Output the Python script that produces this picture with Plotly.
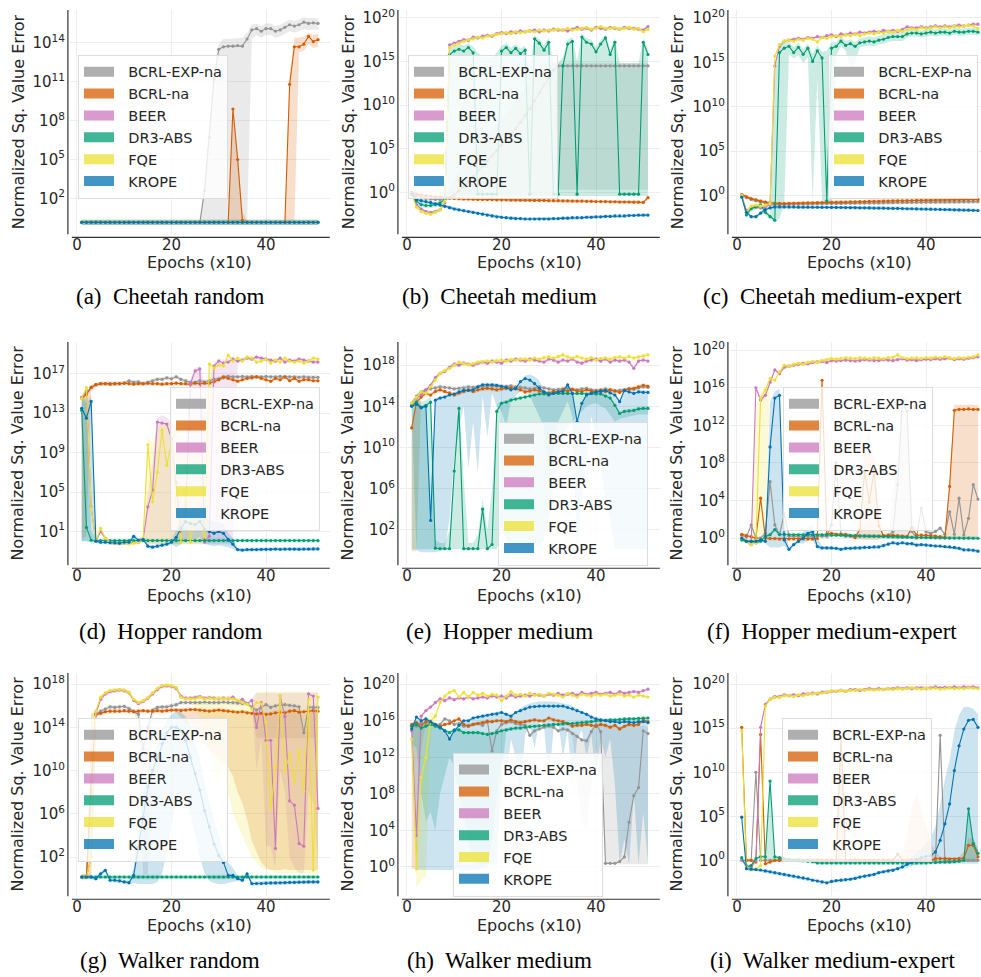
import plotly.graph_objects as go

W, H = 981, 977

# ---------------------------------------------------------------- data
EPOCHS = list(range(1, 52))
METHODS = ["BCRL-EXP-na", "BCRL-na", "BEER", "DR3-ABS", "FQE", "KROPE"]
COLORS = ["#949494", "#d55e00", "#cc78bc", "#029e73", "#ece133", "#0173b2"]
CAPTIONS = ["(a)\u00a0 Cheetah random", "(b)\u00a0 Cheetah medium", "(c)\u00a0 Cheetah medium-expert",
            "(d)\u00a0 Hopper random", "(e)\u00a0 Hopper medium", "(f)\u00a0 Hopper medium-expert",
            "(g)\u00a0 Walker random", "(h)\u00a0 Walker medium", "(i)\u00a0 Walker medium-expert"]
X_TITLE = "Epochs (x10)"
Y_TITLE = "Normalized Sq. Value Error"
X_TICKS = [0, 20, 40]
Y_TICK_EXP = [[2, 5, 8, 11, 14], [0, 5, 10, 15, 20], [0, 5, 10, 15, 20],
              [1, 5, 9, 13, 17], [2, 6, 10, 14, 18], [0, 4, 8, 12, 16, 20],
              [2, 6, 10, 14, 18], [0, 4, 8, 12, 16, 20], [0, 5, 10, 15, 20]]

# All values below are log10(normalized squared value error), one per epoch (x10).
# Band lists: None = narrow default band around the mean.

# (a) Cheetah random
A_EXP = [0.15] * 26 + [2.6, 6.7, 11.2, 13.5, 13.7, 13.75, 13.75, 13.8, 13.75, 14.3, 15.0, 15.1, 14.9,
                       15.1, 15.1, 14.9, 15.0, 15.2, 15.4, 15.3, 15.4, 15.6, 15.5, 15.55, 15.5]
A_EXP_LO = [0.1] * 36 + [14.3, 14.6, 14.4, 14.6, 14.6, 14.4, 14.5, 14.7, 14.9, 14.8, 14.9, 15.1, 15.0, 15.05, 15.0]
A_EXP_HI = [0.2] * 25 + [0.3, 3.5, 8.0, 12.0, 13.9, 14.3, 14.3, 14.35, 14.4, 14.4, 14.8, 15.4, 15.5, 15.3, 15.5,
                         15.5, 15.3, 15.4, 15.6, 15.8, 15.7, 15.8, 16.0, 15.9, 15.95, 15.9]
A_NA = [0.15] * 32 + [8.9, 5.0, 0.3] + [0.15] * 9 + [10.8, 13.7, 13.7, 13.9, 14.5, 14.1, 14.25]
A_NA_LO = [0.1] * 46 + [13.3, 13.4, 13.9, 13.6, 13.7]
A_NA_HI = [0.2] * 31 + [0.3, 9.0, 5.5, 1.0] + [0.2] * 8 + [0.4, 11.5, 14.4, 14.4, 14.5, 14.8, 14.6, 14.7]
A_BEER = [0.15] * 51
A_DR3 = [0.15] * 51
A_FQE = [0.15] * 51
A_KROPE = [0.15] * 51

# (b) Cheetah medium
B_EXP = [-0.1, -0.4, -0.6, -0.7, -0.75, -0.8, -0.8, -0.75, -0.6, -0.3, 0.2, 0.6, 1.2, 1.8, 2.5, 3.0, 3.6, 4.2,
         4.8, 5.4, 6.0, 6.7, 7.3, 8.0, 8.8, 9.6, 10.5, 11.4, 12.3, 13.2, 14.0] + [14.5] * 20
B_EXP_LO = [-0.3, -0.6, -0.8, -0.9, -0.95, -1.0, -1.0, -0.95] + [-0.8] * 23 + [0.3] * 20
B_EXP_HI = [0.1, -0.2, -0.4, -0.5, -0.55, -0.6, -0.6, -0.55, 0.5, 1.5, 2.5, 3.2, 4.0, 4.6, 5.3, 6.0, 6.6, 7.2,
            7.8, 8.5, 9.1, 9.8, 10.5, 11.2, 12.0, 12.8, 13.6, 14.2, 14.6, 14.8, 14.9] + [14.85] * 20
B_NA = [0.0, -0.2, -0.3, -0.4, -0.45, -0.5, -0.55, -0.6, -0.65, -0.7,
        -0.72, -0.75, -0.75, -0.78, -0.8, -0.8, -0.82, -0.82, -0.85, -0.85,
        -0.85, -0.88, -0.88, -0.9, -0.9, -0.9, -0.92, -0.92, -0.92, -0.95,
        -0.95, -0.95, -0.97, -0.97, -1.0, -1.0, -1.0, -1.02, -1.02, -1.05,
        -1.05, -1.05, -1.07, -1.07, -1.1, -1.1, -1.1, -1.12, -1.12, -1.15, -0.6]
B_BEER = [-0.1, -1.4, -1.9, -2.2, -2.3, -2.2, -2.0, -1.2, 16.9, 17.1,
          17.3, 17.5, 17.4, 17.8, 17.7, 17.9, 18.0, 17.9, 18.2, 18.3,
          18.2, 18.4, 18.3, 18.5, 18.4, 18.5, 18.6, 18.4, 18.6, 18.5,
          18.7, 18.6, 18.6, 18.5, 18.7, 18.9, 18.7, 18.8, 18.6, 18.9,
          18.8, 18.7, 18.9, 18.8, 18.7, 18.9, 18.8, 18.8, 18.7, 18.6, 19.0]
B_DR3 = [-0.2, -1.0, -1.4, -1.5, -1.5, -1.4, -1.2, -0.8, 15.8,
         16.2, 16.4, 16.2, 16.6, 16.0,
         -0.2, -0.2, -0.2, -0.2, -0.2,
         16.2, 16.6, 16.0, 16.5, 15.9, 16.3,
         -0.2,
         17.6, 17.1, 16.3, 17.2,
         -0.2, -0.2,
         14.5, 17.0, 17.3,
         -0.2,
         17.8, 17.2, 17.0, 16.1, 17.0, 17.7, 15.8, 17.2,
         -0.2, -0.2, -0.2, -0.2, -0.2,
         17.2, 15.8]
B_DR3_LO = [-0.5, -1.3, -1.7, -1.8, -1.8, -1.7, -1.5, -1.1] + [-0.4] * 43
B_DR3_HI = [0.1, -0.7, -1.1, -1.2, -1.2, -1.1, -0.9, -0.5, 16.5,
            16.8, 17.0, 16.8, 17.1, 16.7,
            16.0, 15.5, 15.5, 15.5, 16.0,
            16.8, 17.1, 16.6, 17.0, 16.5, 16.8,
            14.0,
            18.0, 17.6, 16.9, 17.7,
            14.8, 14.8,
            15.5, 17.5, 17.8,
            15.0,
            18.2, 17.7, 17.5, 16.7, 17.5, 18.1, 16.4, 17.7,
            14.8, 14.8, 14.8, 14.8, 14.8,
            17.6, 16.4]
B_FQE = [-0.2, -1.7, -2.2, -2.4, -2.5, -2.3, -2.0, -1.0, 16.6, 16.9,
         17.1, 17.3, 17.5, 17.6, 17.8, 17.7, 17.9, 18.0, 18.1, 18.2,
         18.3, 18.2, 18.4, 18.3, 18.4, 18.5, 18.4, 18.6, 18.5, 18.6,
         18.6, 18.7, 18.6, 18.8, 18.6, 18.7, 18.8, 18.9, 18.7, 18.8,
         19.0, 18.8, 18.8, 18.9, 18.7, 18.8, 18.9, 18.7, 18.8, 18.4, 18.7]
B_KROPE = [-0.2, -0.8, -0.95, -1.05, -1.15, -1.3, -1.45, -1.6, -1.75, -1.9,
           -2.0, -2.1, -2.2, -2.3, -2.4, -2.5, -2.6, -2.7, -2.8, -2.85,
           -2.9, -2.95, -3.0, -3.0, -3.05, -3.05, -3.05, -3.05, -3.05, -3.05,
           -3.0, -3.0, -2.95, -2.95, -2.9, -2.9, -2.9, -2.85, -2.85, -2.8,
           -2.8, -2.75, -2.75, -2.7, -2.7, -2.7, -2.65, -2.65, -2.6, -2.6, -2.6]

# (c) Cheetah medium-expert
C_EXP = [0.0, -0.25, -0.45, -0.6, -0.75, -0.85, -0.95, -1.0, -1.0, -1.0,
         -0.98, -0.98, -0.96, -0.96, -0.95, -0.95, -0.93, -0.93, -0.92, -0.9,
         -0.9, -0.9, -0.88, -0.88, -0.87, -0.86, -0.86, -0.85, -0.84, -0.84,
         -0.83, -0.82, -0.82, -0.8, -0.8, -0.8, -0.79, -0.78, -0.78, -0.77,
         -0.76, -0.76, -0.75, -0.75, -0.74, -0.73, -0.73, -0.72, -0.72, -0.71, -0.7]
C_NA = [0.1, -0.15, -0.35, -0.5, -0.65, -0.75, -0.85, -0.9, -0.9, -0.92,
        -0.9, -0.88, -0.88, -0.86, -0.85, -0.85, -0.82, -0.8, -0.8, -0.78,
        -0.77, -0.75, -0.75, -0.72, -0.72, -0.7, -0.7, -0.68, -0.66, -0.66,
        -0.64, -0.63, -0.62, -0.6, -0.6, -0.58, -0.58, -0.56, -0.55, -0.55,
        -0.53, -0.52, -0.52, -0.5, -0.5, -0.49, -0.48, -0.48, -0.46, -0.45, -0.45]
C_BEER = [0.0, -1.7, -1.4, -1.3, -1.4, -1.3, -1.0, 14.6, 16.8, 17.4,
          17.5, 17.6, 17.7, 17.6, 17.8, 17.7, 17.9, 17.8, 18.0, 18.1,
          17.9, 18.2, 18.1, 18.3, 18.2, 18.4, 18.3, 18.4, 18.5, 18.4,
          18.6, 18.5, 18.6, 18.5, 18.7, 19.0, 18.9, 18.9, 19.0, 18.9,
          19.0, 19.1, 19.0, 19.1, 19.0, 19.1, 19.2, 19.1, 19.2, 19.3, 19.3]
C_DR3 = [0.0, -2.2, -1.5, -1.3, -1.1, -1.9, -2.4, -2.8, 16.1, 16.6,
         16.8, 16.1, 16.7, 15.9, 16.6, 15.1, 16.3, 15.5, -0.6, 16.6,
         16.8, 17.4, 16.9, 17.1, 16.8, 17.2, 17.3, 17.4, 17.3, 17.5,
         17.6, 17.8, 17.9, 17.9, 17.9, 18.2, 18.3, 18.3, 18.2, 18.3,
         18.4, 18.3, 18.4, 18.4, 18.3, 18.5, 18.4, 18.4, 18.5, 18.5, 18.4]
C_DR3_LO = [-0.3, -2.5, -1.8, -1.6, -1.4, -2.2, -2.7, -3.0, -2.6, -1.0,
            15.9, 15.4, 15.8, 14.9, 15.6, -0.6, 13.0, -0.5, -0.9, -0.7,
            15.8, 16.8, 16.3, 14.5, 15.0, 16.7, 16.8, 16.9, 16.8, 17.0,
            17.1, 17.3, 17.4, 17.4, 17.4, 17.8, 17.9, 17.9, 17.8, 17.9,
            18.0, 17.9, 18.0, 18.0, 17.9, 18.1, 18.0, 18.0, 18.1, 18.1, 18.0]
C_DR3_HI = [0.3, -1.9, -1.2, -1.0, -0.8, -1.6, -2.1, 14.0, 16.8, 17.2,
            17.3, 16.7, 17.2, 16.5, 17.1, 16.0, 16.9, 16.2, 16.3, 17.2,
            17.3, 17.9, 17.4, 17.6, 17.3, 17.7, 17.8, 17.9, 17.8, 18.0,
            18.1, 18.3, 18.4, 18.4, 18.4, 18.6, 18.7, 18.7, 18.6, 18.7,
            18.8, 18.7, 18.8, 18.8, 18.7, 18.9, 18.8, 18.8, 18.9, 18.9, 18.8]
C_FQE = [0.0, -1.9, -1.2, -1.1, -1.2, -1.1, -0.9, 15.7, 17.0, 17.4,
         17.5, 17.4, 17.6, 17.5, 17.7, 17.6, 17.3, 17.8, 17.7, 17.9,
         18.0, 17.9, 18.1, 18.0, 18.2, 18.0, 18.2, 18.3, 18.2, 18.4,
         18.3, 18.5, 18.4, 18.6, 18.5, 18.7, 18.8, 18.7, 18.9, 18.8,
         18.9, 19.0, 18.9, 19.0, 18.9, 19.1, 19.0, 19.1, 19.2, 19.1, 18.8]
C_KROPE = [-0.2, -1.9, -2.4, -2.4, -2.0, -1.6, -1.4, -1.3, -1.3, -1.3,
           -1.3, -1.3, -1.32, -1.32, -1.32, -1.33, -1.33, -1.34, -1.34, -1.35,
           -1.35, -1.36, -1.37, -1.38, -1.38, -1.4, -1.4, -1.41, -1.42, -1.43,
           -1.44, -1.45, -1.46, -1.47, -1.48, -1.5, -1.5, -1.52, -1.53, -1.54,
           -1.55, -1.57, -1.58, -1.6, -1.6, -1.62, -1.63, -1.65, -1.66, -1.68, -1.7]

# (d) Hopper random
D_EXP = [14.5, 14.9, 15.6, 15.9, 16.0, 16.0, 16.0, 16.0, 16.0, 16.05,
         16.3, 16.15, 16.2, 16.0, 16.15, 16.3, 16.45, 16.45, 16.6, 16.5,
         16.7, 16.45, 16.3, 16.15, 16.15, 16.3, 16.2, 16.3, 16.45, 16.5,
         16.6, 16.75, 16.7, 16.7, 16.75, 16.7, 16.75, 16.7, 16.7, 16.75,
         16.7, 16.7, 16.75, 16.7, 16.7, 16.7, 16.65, 16.7, 16.65, 16.65, 16.65]
D_NA = [14.6, 14.95, 15.65, 15.9,
        16.0, 16.0, 15.95, 16.0, 16.0, 16.05, 16.0, 15.95, 16.0, 16.0,
        16.05, 16.0, 16.0, 15.95, 16.0, 16.0, 16.05, 16.0, 16.0, 15.95,
        16.05, 16.0, 16.05, 16.05,
        16.2, 16.4, 16.7, 16.55, 16.4, 16.25, 16.4, 16.55, 16.6, 16.7,
        16.55, 16.4, 16.25, 16.55, 16.4, 16.7, 16.3, 16.55, 16.25, 16.4,
        16.4, 16.3, 16.3]
D_NA_LO = [0.2, 0.5, 15.2] + [None] * 48
D_BEER = [14.6, 15.3, 3.5, 0.0, 1.0, 0.3, -0.1, -0.2, -0.2, -0.2,
          -0.2, -0.1, -0.1, 0.2, 3.5, 5.2, 12.1, 12.0, 11.9, 10.4,
          6.0, 1.0, 3.0, 16.0, 17.3, 17.5, -0.1, 0.5, 17.8, 18.3,
          18.1, 18.2, 18.5, 18.3, 18.4, 18.6, 18.5, 18.7, 18.6, 18.5,
          18.4, 18.3, 18.6, 18.2, 18.4, 18.3, 18.5, 18.4, 18.3, 18.2, 18.2]
D_BEER_LO = [None] * 14 + [-0.3] * 19 + [None] * 18
D_BEER_HI = [None] * 14 + [5.0, 8.0, 12.5, 12.8, 12.6, 12.0, 11.0, 9.0, 10.0, 16.5, 17.6, 17.8, 16.0, 16.0,
                           18.1, 18.6, 18.4, 18.5, 18.8] + [None] * 18
D_DR3 = [13.3, 1.4, 0.1] + [0.07] * 48
D_DR3_LO = [0.0, 0.0] + [None] * 49
D_DR3_HI = [14.7, 14.5, 1.0] + [None] * 48
D_FQE = [14.5, 15.6, 3.4, 0.0, 1.3, 0.3, -0.1, -0.2, -0.2, -0.2,
         -0.25, -0.2, -0.1, 0.3, 9.8, 4.0, 7.0, 11.3, 7.7, 10.0,
         3.0, -0.1, 5.0, -0.1, 3.0, 2.0, 0.5, 18.0, 17.6, 17.9,
         17.8, 18.9, 18.3, 18.6, 18.3, 18.7, 18.6, 18.2, 18.3, 18.5,
         18.1, 18.4, 18.2, 18.6, 18.3, 18.2, 18.3, 18.1, 18.3, 18.6, 18.5]
D_FQE_LO = [None] * 14 + [-0.3] * 14 + [None] * 23
D_FQE_HI = [None] * 14 + [10.5, 10.0, 11.5, 12.0, 12.0, 12.0, 11.5, 11.0, 10.5, 10.0, 9.5, 9.0, 8.0, 18.4] + [None] * 23
D_KROPE = [13.5, 12.5, 14.2, 0.0, -0.1, -0.1, -0.15, -0.15, -0.2, -0.1,
           -0.1, 0.5, 0.1, 0.2, -0.5, -0.6, -0.5, -0.4, -0.3, -0.1,
           0.4, 1.3, 2.0, 1.8, 1.7, 2.0, 1.2, 1.0, 0.8, 1.0,
           0.8, 0.2, -0.3, -0.85, -0.9, -0.85, -0.85, -0.85, -0.82, -0.82,
           -0.82, -0.8, -0.82, -0.8, -0.8, -0.8, -0.82, -0.8, -0.8, -0.78, -0.78]
D_KROPE_LO = [0.0, 0.0, 0.0] + [None] * 17 + [-0.6, -0.3, 0.2, 0.3, 0.2, 0.4, -0.2, -0.4, -0.5, -0.4, -0.5,
                                               -0.6, -0.8] + [None] * 18
D_KROPE_HI = [14.7, 14.0, 14.8] + [None] * 17 + [1.2, 2.5, 3.2, 3.0, 3.0, 3.2, 2.5, 2.2, 2.0, 2.0, 1.8,
                                                  0.8, 0.3] + [None] * 18

# (e) Hopper medium
E_EXP = [14.2, 15.0, 15.4, 15.6, 15.7, 15.8, 15.9, 15.85, 15.8, 15.7,
         15.75, 15.8, 15.9, 15.85, 15.9, 15.95, 16.0, 16.0, 15.95, 15.9,
         15.95, 16.0, 15.9, 15.85, 15.8, 15.7, 15.75, 15.9, 15.8, 15.7,
         15.6, 15.65, 15.7, 15.8, 15.65, 15.6, 15.7, 15.75, 15.6, 15.55,
         15.6, 15.7, 15.6, 15.5, 15.55, 15.6, 15.7, 15.65, 15.8, 15.9, 15.85]
E_NA = [11.9, 14.4, 14.9, 15.25, 15.1, 15.45, 15.6, 15.45, 15.3, 15.1,
        15.3, 15.45, 15.6, 15.45, 15.6, 15.7, 15.75, 15.7, 15.6, 15.7,
        15.75, 15.8, 15.7, 15.6, 15.4, 15.5, 15.6, 15.5, 15.35, 15.3,
        15.45, 15.4, 15.6, 15.5, 15.65, 15.5, 15.45, 15.6, 15.5, 15.4,
        15.55, 15.45, 15.6, 15.5, 15.35, 15.55, 15.7, 15.75, 15.9, 16.05, 15.95]
E_NA_LO = [-0.1, -0.1] + [None] * 49
E_BEER = [14.3, 14.8, 15.1, 15.6, 16.05, 16.8, 17.2, 17.4, 17.8, 18.1,
          18.0, 18.2, 18.1, 18.0, 18.2, 18.3, 18.2, 18.4, 18.3, 18.2,
          18.5, 18.4, 18.6, 18.5, 18.4, 18.6, 18.5, 18.4, 18.3, 18.6,
          18.5, 18.3, 18.5, 18.4, 18.6, 18.3, 18.2, 18.4, 18.5, 18.6,
          18.4, 18.6, 18.3, 18.5, 18.4, 18.5, 18.3, 17.7, 18.4, 18.5, 18.4]
E_DR3 = [14.1, 14.4, 13.9, 14.1, 14.4, 0.2, 0.15, 0.15, 0.15, 7.7,
         13.8, 0.15, 0.15, 0.15, 0.15, 4.0, 0.15, 0.55, 13.5, 14.3,
         14.4, 14.6, 14.7, 14.8, 14.9, 15.0, 15.1, 15.2, 15.2, 15.25,
         15.25, 15.25, 15.25, 15.25, 15.25, 15.25, 15.25, 15.2, 15.25, 15.2,
         15.2, 15.0, 14.8, 14.1, 13.3, 13.5, 13.55, 13.6, 13.75, 13.8, 13.8]
E_DR3_LO = [0.1] * 19 + [2.0, 1.0, 0.5, 0.3, 0.2, 0.2, 0.2, 0.2, 0.5, 1.0, 3.0, 6.0, 9.0, 11.0, 12.0, 12.5,
                         13.0, 13.5, 14.0, 14.2, 14.3, 14.0, 13.8, 13.2, 12.5, 12.8, 12.9, 13.0, 13.1, 13.2,
                         13.2, 13.2]
E_DR3_HI = [14.6, 14.9, 14.4, 14.6, 14.9, 1.0, 0.7, 0.7, 2.0, 8.5, 14.3, 7.0, 0.7, 0.7, 1.5, 5.0, 2.0, 6.0,
            14.2] + [None] * 32
E_FQE = [14.3, 14.9, 15.4, 15.25, 15.9, 16.55, 17.2, 17.5, 17.7, 18.0,
         18.3, 18.15, 18.05, 18.15, 18.3, 18.35, 18.4, 18.3, 18.45, 18.5,
         18.4, 18.55, 18.5, 18.6, 18.6, 18.5, 18.7, 18.6, 18.75, 18.8,
         18.7, 18.85, 19.0, 18.8, 18.7, 18.85, 18.7, 18.6, 18.75, 18.5,
         18.65, 18.7, 18.6, 18.75, 18.8, 18.7, 18.85, 18.7, 18.8, 18.9, 19.0]
E_KROPE = [14.0, 14.2, 13.85, 14.0, 2.9, 14.6, 14.8, 14.9, 15.1, 15.2,
           15.4, 15.55, 15.55, 15.6, 15.9, 16.1, 16.1, 16.1, 16.05, 15.95,
           15.85, 15.6, 15.75, 16.4, 16.7, 16.55, 16.2, 15.75, 15.4, 15.1,
           15.25, 15.4, 15.45, 16.1, 15.25, 12.5, 14.3, 15.1, 15.25, 15.4,
           15.45, 15.55, 15.3, 15.1, 14.45, 15.55, 15.4, 15.25, 15.4, 15.35, 15.35]
E_KROPE_LO = [13.5, 0.0, -0.2, -0.2, -0.2, -0.2, -0.1, 0.2, 3.0, 9.0,
              12.0, 14.0, 8.0, 12.5, 7.5, 15.0, 11.0, 15.3, 14.0, 13.5,
              12.0, 14.5, 15.0, 15.5, 15.5, 15.0, 14.0, 13.0, 12.0, 8.0,
              10.0, 12.5, 13.5, 14.5, 13.0, 0.2, 5.0, 9.0, 13.0, 11.0,
              8.0, 5.0, 3.0, 0.1, 0.1, 0.1, 0.1, 0.1, 0.1, 0.1, 0.1]
E_KROPE_HI = [None] * 23 + [16.3, 17.0, 17.1, 16.9, 16.5] + [None] * 23

# (f) Hopper medium-expert
F_EXP = [0.3, 0.1, 1.4, 0.0, 0.0, 0.5, 6.0, 1.4, 0.35, 2.6,
         0.2, 0.2, 0.2, 0.2, 0.2, 0.2, 0.2, 0.2, 0.2, 1.4,
         8.0, 0.35, 0.2, 0.2, 0.2, 0.2, 0.2, 0.2, 0.2, 0.2,
         0.2, 0.2, 0.7, 5.7, 14.5, 13.5, 0.7, 0.0, 3.2, 0.7,
         0.5, 0.7, 1.05, 0.4, 2.8, 0.4, 4.25, 0.35, 2.1, 5.7, 4.15]
F_EXP_LO = [None] * 31 + [-0.1] * 6 + [None] * 14
F_EXP_HI = [None] * 31 + [0.5, 5.0, 9.0, 15.2, 15.0, 3.0] + [None] * 14
F_NA = [0.4, 0.25, 0.15, 0.0, 4.25, 0.0, -0.05, -0.05, -0.1, -0.1,
        -0.1, -0.1, -0.1, -0.1, -0.1, -0.1, -0.05, 16.8, 0.4, 0.5,
        0.4, 0.4, 0.4, 0.25, 0.05, 0.9, 7.1, 3.8, 7.2, 1.3,
        0.25, 0.3, 0.3, 0.25, 0.2, 0.15, 1.1, 0.3, 0.3, 0.3,
        0.25, 0.2, 0.15, 0.05, 5.5, 13.6, 13.7, 13.7, 13.75, 13.7, 13.7]
F_NA_LO = [None] * 16 + [-0.2, 16.0, -0.2] + [None] * 6 + [-0.2] * 5 + [None] * 13 + [-0.1] * 8
F_NA_HI = [None] * 16 + [0.3, 17.1, 0.8] + [None] * 6 + [2.0, 9.5, 11.5, 8.5, 3.0] + [None] * 13 + \
          [0.5, 6.5, 14.2, 14.2, 14.2, 14.25, 14.2, 14.2]
F_BEER = [0.0, -0.35, -0.7, 16.0, 14.7, 15.2, 16.6, 17.9, 17.5, 18.2,
          18.3, 18.4, 18.5, 18.6, 18.55, 18.7, 18.75, 18.8, 18.7, 18.9,
          18.85, 18.9, 18.95, 18.9, 18.85, 18.9, 19.0, 18.95, 18.9, 18.9,
          19.0, 18.95, 18.9, 19.0, 19.1, 18.95, 19.0, 18.9, 19.0, 19.05,
          19.0, 19.1, 19.05, 19.1, 19.15, 19.0, 19.1, 19.05, 19.15, 19.2, 19.3]
F_DR3 = [-0.2, -0.35, -0.35, -0.5, -0.35, 0.2, 0.35, 0.9, 0.4, 0.4,
         0.35, 0.35, 0.35, 0.35, 0.35, 0.35, 0.35, 0.35, 0.35, 0.3,
         0.3, 0.3, 0.28, 0.26, 0.25, 0.24, 0.22, 0.2, 0.2, 0.18,
         0.16, 0.15, 0.14, 0.12, 0.1, 0.1, 0.08, 0.06, 0.05, 0.04,
         0.03, 0.02, 0.02, 0.01, 0.0, 0.0, 0.0, -0.01, -0.01, -0.02, -0.02]
F_FQE = [0.0, -0.35, -0.7, -0.5, 14.9, 15.75, 17.0, 16.8, 17.7, 18.4,
         18.3, 18.5, 18.6, 18.5, 18.7, 18.8, 18.7, 18.9, 19.0, 19.1,
         19.05, 19.1, 19.2, 19.15, 19.1, 19.2, 19.15, 19.1, 19.2, 19.15,
         19.1, 19.2, 19.25, 19.5, 19.2, 19.1, 19.15, 19.2, 19.1, 19.2,
         19.15, 19.25, 19.2, 19.3, 19.15, 19.1, 19.2, 19.15, 19.25, 19.3, 19.5]
F_FQE_LO = [None] * 3 + [-0.6, -0.5, -0.3] + [None] * 45
F_FQE_HI = [None] * 3 + [14.0, 15.5, 16.2] + [None] * 45
F_KROPE = [0.0, -0.35, -0.35, -0.35, -0.2, -0.35, 9.7, 14.9, 15.2, -0.2,
           -1.2, -0.7, -0.35, 0.0, 0.5, 0.7, -0.9, -1.05, -1.05, -1.05,
           -1.1, -1.2, -1.1, -1.1, -1.05, -1.05, -1.0, -1.0, -0.95, -0.95,
           -0.8, -0.65, -0.5, -0.6, -0.5, -0.6, -0.6, -0.75, -0.7, -0.75,
           -0.8, -0.85, -0.85, -0.9, -0.95, -1.0, -1.1, -1.25, -1.25, -1.3, -1.4]
F_KROPE_LO = [None] * 6 + [-1.0, -1.0, -1.0, -0.8] + [None] * 3 + [-0.6, -0.3, -0.2, -1.2] + [None] * 34
F_KROPE_HI = [None] * 6 + [14.5, 15.6, 15.9, 1.5] + [None] * 3 + [0.6, 1.2, 1.4, 0.0] + [None] * 34

# (g) Walker random
G_EXP = [0.15, 0.15, 8.0, 15.2, 15.5, 15.7, 15.9, 15.85, 15.9, 15.95,
         15.75, 15.5, 15.2, 12.0, 14.0, 15.6, 15.85, 15.9, 15.9, 16.0,
         16.1, 16.3, 16.3, 16.3, 16.3, 16.3, 16.35, 16.3, 16.3, 16.3,
         16.35, 16.3, 16.3, 16.25, 16.2, 16.2, 15.9, 15.6, 15.85, 16.1,
         15.85, 16.0, 16.1, 16.1, 16.05, 16.0, 15.9, 13.5, 15.85, 15.85, 15.85]
G_EXP_LO = [None] * 12 + [14.5, 0.4, 0.4, 15.0] + [None] * 21 + [13.0] * 14
G_NA = [0.15, 0.15, 9.0, 15.2, 15.3, 15.45, 15.5, 15.5, 15.5, 15.55,
        15.5, 15.45, 15.5, 15.55, 15.5, 15.5, 15.55, 15.5, 15.55, 15.6,
        15.6, 15.55, 15.6, 15.65, 15.65, 15.6, 15.55, 15.5, 15.55, 15.6,
        15.55, 15.5, 15.45, 15.4, 15.45, 15.35, 15.3, 15.25, 15.3, 15.2,
        15.25, 15.35, 15.4, 15.35, 15.5, 15.55, 15.4, 15.45, 15.5, 15.55, 15.5]
G_NA_LO = [0.1, 0.1, 0.1] + [None] * 18 + [15.0, 14.5, 14.0, 13.5, 13.0, 12.5, 12.0, 11.5, 11.0, 10.8,
                                           10.3, 9.5, 8.0, 7.0, 5.5, 3.5, 2.5, 1.5, 1.0, 0.8,
                                           0.8, 0.8, 0.9, 0.8, 0.8, 0.8, 0.8, 0.8, 0.8, 0.8]
G_NA_HI = [None, 0.5, 15.3] + [None] * 48
G_BEER = [0.15, 0.15, 2.0, 15.3, 16.6, 17.1, 17.3, 17.4, 17.45, 17.4,
          17.2, 16.5, 16.2, 16.4, 16.7, 17.1, 17.5, 17.8, 17.85, 17.8,
          17.6, 16.9, 16.7, 16.7, 16.75, 16.85, 16.7, 16.75, 16.7, 16.65,
          16.7, 16.65, 16.8, 16.4, 16.6, 16.2, 16.5, 14.0, 16.3, 12.8,
          12.8, 2.8, 16.9, 15.0, 7.2, 6.8, 3.25, 3.0, 17.1, 16.9, 6.5]
G_BEER_LO = [None] * 37 + [10.0, 13.0, 3.0, 3.0, 1.0, 10.0, 8.0, 2.0, 1.0, 0.5, 0.5, 8.0, 7.0, 1.5]
G_BEER_HI = [None] * 37 + [17.2] * 14
G_DR3 = [0.15] * 51
G_FQE = [0.15, 0.15, 2.0, 15.5, 16.8, 17.2, 17.4, 17.45, 17.5, 17.45,
         17.25, 16.6, 16.3, 16.45, 16.75, 17.2, 17.6, 17.85, 17.9, 17.85,
         17.7, 16.8, 16.65, 16.65, 16.65, 16.8, 16.65, 16.7, 16.65, 16.7,
         16.65, 16.7, 16.65, 16.5, 16.3, 16.15, 15.7, 16.3, 16.2, 14.5,
         6.6, 10.3, 16.9, 10.0, 11.5, 9.0, 11.8, 8.1, 16.6, 0.8, 16.8]
G_FQE_LO = [None] * 2 + [0.1] + [None] * 21 + [15.5, 15.0, 14.0, 12.0, 10.0, 9.0, 10.0, 8.0, 6.0, 5.0,
                                              4.0, 3.0, 2.0, 1.5, 1.0, 0.8, 0.8, 0.5, 0.5, 0.5,
                                              0.5, 0.5, 0.5, 0.5, 0.5, 0.5, 0.5]
G_FQE_HI = [None] * 2 + [15.0] + [None] * 34 + [17.3] * 14
G_KROPE = [0.15, 0.15, 0.15, 0.0, 0.45, 0.77, -0.15, -0.15, -0.2, -0.3,
           -0.37, 0.3, 2.9, 5.7, 8.5, 10.0, 11.2, 12.5, 13.5, 14.0,
           14.0, 13.7, 12.8, 11.2, 9.7, 8.2, 6.3, 4.8, 3.2, 2.15,
           1.5, 0.3, 0.3, 0.0, -0.15, 0.45, -0.46, -0.45, -0.45, -0.42,
           -0.4, -0.4, -0.38, -0.37, -0.35, -0.35, -0.33, -0.32, -0.3, -0.3, -0.3]
G_KROPE_LO = [None] * 11 + [-0.4, -0.5, -0.5, -0.5, -0.5, -0.3, 0.5, 2.5, 5.0, 7.0, 8.0, 7.5, 6.0, 4.0, 2.0,
                            0.5, -0.2, -0.4, -0.5, -0.5, -0.4, -0.3] + [None] * 18
G_KROPE_HI = [None] * 11 + [1.0, 4.5, 7.5, 10.0, 11.5, 12.5, 13.8, 14.6, 15.2, 15.5, 15.4, 15.0, 14.0, 12.5,
                            11.0, 9.0, 7.0, 5.5, 4.0, 2.5, 1.5, 1.0] + [None] * 18

# (h) Walker medium
H_EXP = [15.4, 15.4, 15.8, 15.6, 15.7, 15.5, 15.6, 16.2, 16.0, 15.6,
         15.7, 15.4, 15.5, 15.6, 15.7, 15.5, 16.0, 12.7, 14.9, 15.6,
         15.8, 15.9, 15.7, 15.6, 15.5, 14.4, 14.9, 15.1, 15.3, 15.4,
         15.3, 14.9, 15.1, 15.0, 14.6, 14.3, 13.9, 13.8, 14.8, 15.6,
         14.8, 0.4, 0.4, 0.4, 0.6, 1.1, 4.9, 7.8, 8.7, 14.9, 14.6]
H_EXP_LO = [None] * 35 + [9.0, 5.0, 4.0, 9.0, 13.0, 10.0] + [0.3] * 10
H_EXP_HI = [None] * 40 + [15.5, 15.6, 15.4, 15.5, 15.3, 15.4, 15.5, 15.3, 15.4, 15.5, 15.3]
H_NA = [15.6, 15.8, 15.5, 15.9, 15.8, 15.5, 15.4, 15.6, 15.7, 16.0,
        16.2, 15.6, 15.4, 15.6, 15.7, 15.8, 15.9, 15.9, 16.0, 16.0,
        15.9, 16.1, 15.9, 15.8, 15.9, 16.0, 16.1, 16.0, 16.0, 16.3,
        16.1, 16.0, 15.9, 15.7, 15.4, 15.5, 15.5, 15.6, 15.5, 15.4,
        15.6, 15.5, 15.3, 15.5, 15.1, 15.4, 15.6, 15.5, 15.6, 16.1, 15.9]
H_NA_LO = [-0.2, -0.2, 13.0] + [None] * 48
H_BEER = [14.9, 3.45, 16.5, 17.1, 17.5, 18.0, 18.4, 18.2, 18.5, 18.3,
          18.5, 18.4, 18.6, 18.4, 18.5, 18.6, 18.5, 18.7, 18.6, 18.7,
          18.5, 18.8, 18.6, 18.7, 18.8, 18.7, 18.9, 18.8, 18.7, 18.9,
          18.8, 19.0, 18.8, 18.9, 19.0, 18.8, 19.1, 18.9, 19.0, 19.1,
          18.9, 19.0, 19.1, 18.9, 19.2, 19.0, 19.1, 19.2, 19.1, 19.3, 19.45]
H_DR3 = [15.4, 15.6, 15.2, 15.4, 15.6, 15.4, 15.2, 14.9, 14.7, 15.0,
         15.0, 14.7, 14.7, 14.7, 14.7, 14.6, 14.5, 14.6, 14.7, 14.9,
         15.0, 15.1, 15.2, 15.2, 15.3, 15.35, 15.4, 15.45, 15.5, 15.55,
         15.6, 15.6, 15.65, 15.7, 15.7, 15.75, 15.8, 15.85, 15.9, 16.0,
         16.0, 16.05, 16.1, 16.1, 16.15, 16.2, 16.2, 16.2, 16.25, 16.3, 16.3]
H_DR3_LO = [13.5, 13.0, 8.0, 5.0, 6.0, 4.0, 8.0, 10.0, 12.0, 11.0, 8.0, 6.0, 3.0, 0.5, 0.3, 0.3, 0.3, 0.3, 0.3,
            10.0] + [None] * 31
H_FQE = [14.0, -0.2, 9.8, 12.0, 16.0, 16.5, 18.0, 18.7, 19.1, 19.3,
         18.6, 19.1, 18.6, 19.1, 18.8, 19.0, 18.7, 18.9, 18.8, 18.2,
         18.7, 19.2, 18.8, 18.9, 18.7, 19.0, 18.8, 18.9, 18.7, 19.0,
         18.9, 18.8, 18.6, 19.0, 18.8, 18.6, 18.9, 18.8, 18.7, 18.9,
         18.8, 18.9, 18.7, 18.8, 18.9, 18.7, 18.8, 18.6, 18.8, 18.7, 18.6]
H_FQE_LO = [12.0, -2.2, -1.5, -1.0, 14.0] + [None] * 46
H_FQE_HI = [15.0, 1.5, 13.0, 15.5, 17.0] + [None] * 46
H_KROPE = [15.1, 16.4, 16.0, 16.2, 15.9, 15.6, 15.3, 14.9, 14.0, 14.9,
           15.5, 16.0, 16.0, 16.3, 16.4, 16.5, 16.6, 16.7, 16.75, 16.9,
           16.7, 16.5, 16.9, 17.1, 17.3, 17.5, 17.55, 17.6, 17.6, 17.6,
           17.6, 17.6, 17.6, 17.45, 17.3, 17.1, 16.9, 16.7, 16.4, 16.2,
           16.1, 16.0, 15.9, 15.9, 15.8, 15.9, 15.85, 15.8, 15.9, 15.9, 15.8]
H_KROPE_LO = [13.5, -0.3, -0.35, -0.35, -0.35, -0.35, -0.35, -0.35, -0.35, -0.35,
              -0.35, -0.35, -0.35, -0.35, -0.35, -0.3, -0.2, 3.0, 8.0, 12.0,
              10.0, 14.0, 12.0, 8.0, 14.5, 15.5, 13.0, 16.0, 15.5, 9.0,
              15.0, 16.0, 12.0, 15.0, 9.0, 14.0, 15.0, 12.0, 14.5, 10.0,
              14.0, 12.0, 14.0, 9.0, 0.5, 3.0, 0.3, 8.0, 0.3, 6.0, 0.5]
H_KROPE_HI = [None] * 22 + [17.0, 17.4, 17.7, 17.9, 18.0, 18.1, 18.1, 18.1, 18.1, 18.0, 17.9, 17.8,
                            17.6] + [None] * 16

# (i) Walker medium-expert
I_EXP = [0.0] * 3 + [10.0] + [0.0] * 38 + [14.2] + [0.0] * 8
I_NA = [15.1, 0.0, 0.0, -0.2, 14.3, -0.4, -0.2, 0.0, 0.0, 0.05,
        0.05, 0.0, 0.05, 0.0, 0.05, 0.0, 0.05, 0.0, 0.0, 0.0,
        0.0, 14.0, 0.0, 0.0, 0.05, 0.0, 0.0, 0.0, 0.0, 0.0,
        0.05, 0.0, 0.0, 0.7, 0.0, 0.0, 0.05, 0.0, 0.0, 0.05,
        0.0, 0.2, 0.2, 0.2, 0.15, 0.15, 0.2, 0.25, 1.7, 1.7, 0.4]
I_NA_LO = [None] * 21 + [-0.1] + [None] * 12 + [-0.1] * 8 + [None] * 5 + [-0.2] * 4
I_NA_HI = [None] * 21 + [14.3] + [None] * 12 + [1.0, 3.0, 6.0, 7.5, 6.0, 4.0, 2.0, 1.0] + [None] * 5 + \
          [1.0, 2.5, 2.5, 1.2]
I_BEER = [0.0, -0.6, -0.8, 0.0, 15.1, 17.7, 18.3, 18.6, 18.6, 18.8,
          18.7, 18.8, 18.7, 18.9, 18.9, 19.0, 18.9, 19.1, 19.1, 19.2,
          19.2, 19.3, 19.2, 19.4, 19.4, 19.3, 19.4, 19.5, 19.4, 19.5,
          19.4, 19.5, 19.5, 19.6, 19.5, 19.6, 19.5, 19.6, 19.6, 19.5,
          19.6, 19.7, 19.6, 19.65, 19.6, 19.7, 19.6, 19.7, 19.65, 19.7, 19.6]
I_DR3 = [0.3, -0.75, -0.6, 0.2, 0.4, 0.4, 9.0, 0.4, 0.3, 0.2,
         0.1, 0.0, 0.0, -0.05, -0.1, -0.15] + [-0.3] * 24 + \
        [-0.25, -0.25, -0.2, -0.2, -0.2, -0.15, -0.1, 0.0, 5.85, 1.9, 0.8]
I_DR3_LO = [None] * 6 + [-0.1] + [None] * 41 + [-0.2, -0.2, -0.2]
I_DR3_HI = [None] * 6 + [9.3] + [None] * 41 + [6.0, 2.5, 1.2]
I_FQE = [14.7, -0.75, -1.1, -0.95, -0.6, 17.5, 18.3, 18.5, 18.5, 18.7,
         18.7, 18.6, 18.8, 18.7, 18.9, 18.9, 19.0, 19.0, 19.1, 19.25,
         19.2, 19.3, 19.2, 19.3, 19.3, 19.4, 19.3, 19.4, 19.35, 19.4,
         19.4, 19.5, 19.4, 19.5, 19.45, 19.5, 19.6, 19.5, 19.45, 19.55,
         19.5, 19.55, 19.45, 19.5, 19.55, 19.5, 19.55, 19.5, 19.6, 19.55, 19.5]
I_KROPE = [4.9, -0.95, -1.0, -1.05, -1.1, -1.2, -1.3, -1.4, -1.5, -1.6,
           -1.7, -1.8, -1.9, -2.0, -2.1, -2.26, -2.35, -2.45, -2.55, -2.4,
           -2.3, -2.25, -2.2, -2.15, -2.05, -1.9, -1.8, -1.7, -1.6, -1.4,
           -1.3, -1.2, -1.13, -0.95, -0.75, -0.45, -0.2, 0.07, 0.3, 0.45,
           0.55, 0.95, 2.26, 4.15, 6.4, 10.2, 13.0, 14.9, 15.9, 16.0, 15.1]
I_KROPE_LO = [None] * 35 + [-0.9, -0.6, -0.5, -0.4, -0.4, -0.4, -0.4, -0.4, -0.4, -0.4, -0.4, -0.4, -0.4,
                            -0.4, -0.4, -0.4]
I_KROPE_HI = [None] * 35 + [0.1, 0.4, 0.9, 1.3, 2.0, 2.5, 3.9, 6.3, 9.2, 11.4, 14.7, 16.5, 17.4, 17.4,
                            17.2, 16.6]

# series per panel, in METHODS order: (mean, band low, band high)
PANEL_SERIES = [
    [(A_EXP, A_EXP_LO, A_EXP_HI), (A_NA, A_NA_LO, A_NA_HI), (A_BEER, None, None),
     (A_DR3, None, None), (A_FQE, None, None), (A_KROPE, None, None)],
    [(B_EXP, B_EXP_LO, B_EXP_HI), (B_NA, None, None), (B_BEER, None, None),
     (B_DR3, B_DR3_LO, B_DR3_HI), (B_FQE, None, None), (B_KROPE, None, None)],
    [(C_EXP, None, None), (C_NA, None, None), (C_BEER, None, None),
     (C_DR3, C_DR3_LO, C_DR3_HI), (C_FQE, None, None), (C_KROPE, None, None)],
    [(D_EXP, None, None), (D_NA, D_NA_LO, None), (D_BEER, D_BEER_LO, D_BEER_HI),
     (D_DR3, D_DR3_LO, D_DR3_HI), (D_FQE, D_FQE_LO, D_FQE_HI), (D_KROPE, D_KROPE_LO, D_KROPE_HI)],
    [(E_EXP, None, None), (E_NA, E_NA_LO, None), (E_BEER, None, None),
     (E_DR3, E_DR3_LO, E_DR3_HI), (E_FQE, None, None), (E_KROPE, E_KROPE_LO, E_KROPE_HI)],
    [(F_EXP, F_EXP_LO, F_EXP_HI), (F_NA, F_NA_LO, F_NA_HI), (F_BEER, None, None),
     (F_DR3, None, None), (F_FQE, F_FQE_LO, F_FQE_HI), (F_KROPE, F_KROPE_LO, F_KROPE_HI)],
    [(G_EXP, G_EXP_LO, None), (G_NA, G_NA_LO, G_NA_HI), (G_BEER, G_BEER_LO, G_BEER_HI),
     (G_DR3, None, None), (G_FQE, G_FQE_LO, G_FQE_HI), (G_KROPE, G_KROPE_LO, G_KROPE_HI)],
    [(H_EXP, H_EXP_LO, H_EXP_HI), (H_NA, H_NA_LO, None), (H_BEER, None, None),
     (H_DR3, H_DR3_LO, None), (H_FQE, H_FQE_LO, H_FQE_HI), (H_KROPE, H_KROPE_LO, H_KROPE_HI)],
    [(I_EXP, None, None), (I_NA, I_NA_LO, I_NA_HI), (I_BEER, None, None),
     (I_DR3, I_DR3_LO, I_DR3_HI), (I_FQE, None, None), (I_KROPE, I_KROPE_LO, I_KROPE_HI)],
]

# ---------------------------------------------------------------- layout (pixels)
BAND_HALF = 0.2          # default half width of the shaded band, in decades
COL_X = [(69.9, 329.8), (399.9, 659.8), (729.9, 981.0)]
COL_XRANGE = [(-1.5, 53.5), (-1.5, 53.5), (-1.5, 51.64)]
ROW_Y = [(7, 232), (340, 564), (672, 896)]
Y_RANGE = [(-0.77, 16.54), (-4.8, 20.9), (-4.38, 20.9),
           (-2.44, 20.24), (-1.46, 20.26), (-2.9, 20.88),
           (-1.63, 19.04), (-3.2, 21.23), (-4.08, 21.28)]
LEGEND_POS = [(78, 52), (408, 52), (828, 52), (170, 385), (498, 420), (783, 385),
              (78, 717), (453, 752), (782, 717)]
LEGEND_LABEL_PAD = "\u00a0\u00a0"   # gap between the colour patch and the label
YTITLE_X = [18, 348, 677]
XTITLE_Y = [260, 594, 925]
CAPTION_X = [170, 500, 832]
CAPTION_Y = [294, 630, 960]


def px_x(v):
    return v / W


def px_y(v):
    return 1 - v / H


def rgba(hex_color, a):
    h = hex_color.lstrip("#")
    return "rgba(%d,%d,%d,%.3f)" % (int(h[0:2], 16), int(h[2:4], 16), int(h[4:6], 16), a)


def resolve(mean, band, sign):
    if band is None:
        return [m + sign * BAND_HALF for m in mean]
    return [b if b is not None else m + sign * BAND_HALF for b, m in zip(band, mean)]


fig = go.Figure()
layout = dict(width=W, height=H, margin=dict(l=0, r=0, t=0, b=0),
              paper_bgcolor="white", plot_bgcolor="white", showlegend=True)
shapes, annotations = [], []
TICK_FONT = dict(family="DejaVu Sans", size=15, color="#262626")

for k in range(9):
    r, c = divmod(k, 3)
    sfx = "" if k == 0 else str(k + 1)
    xa, ya = "x" + sfx, "y" + sfx
    x0, x1 = COL_X[c]
    y0, y1 = ROW_Y[r]
    exps = Y_TICK_EXP[k]
    layout["xaxis" + sfx] = dict(domain=[px_x(x0), px_x(x1)], range=list(COL_XRANGE[c]), anchor=ya,
                                 tickvals=X_TICKS, showgrid=True, gridcolor="#eeeeee", gridwidth=1,
                                 zeroline=False, showline=False, ticks="", tickfont=TICK_FONT)
    layout["yaxis" + sfx] = dict(domain=[px_y(y1), px_y(y0)], type="log", range=list(Y_RANGE[k]), anchor=xa,
                                 tickvals=[10.0 ** e for e in exps],
                                 ticktext=["10<sup>%d</sup>" % e for e in exps],
                                 showgrid=True, gridcolor="#eeeeee", gridwidth=1, zeroline=False,
                                 showline=False, ticks="", tickfont=TICK_FONT, ticklabelstandoff=4)
    # offset spines
    shapes.append(dict(type="line", xref="paper", yref="paper", x0=px_x(x0 - 2), x1=px_x(x0 - 2),
                       y0=px_y(y0), y1=px_y(y1), line=dict(color="#333333", width=1.2)))
    shapes.append(dict(type="line", xref="paper", yref="paper", x0=px_x(x0 + 2), x1=px_x(x1),
                       y0=px_y(y1 + 3), y1=px_y(y1 + 3), line=dict(color="#333333", width=1.2)))

    series = PANEL_SERIES[k]
    # bands first (beneath all lines)
    for i, (mean, lo, hi) in enumerate(series):
        lo_v = resolve(mean, lo, -1)
        hi_v = resolve(mean, hi, +1)
        fig.add_trace(go.Scatter(
            x=EPOCHS + EPOCHS[::-1],
            y=[10.0 ** v for v in hi_v] + [10.0 ** v for v in lo_v[::-1]],
            fill="toself", fillcolor=rgba(COLORS[i], 0.2), line=dict(width=0),
            mode="lines", hoverinfo="skip", showlegend=False, xaxis=xa, yaxis=ya))
    for i, (mean, lo, hi) in enumerate(series):
        fig.add_trace(go.Scatter(
            x=EPOCHS, y=[10.0 ** v for v in mean], mode="lines+markers",
            line=dict(color=COLORS[i], width=1.1), marker=dict(color=COLORS[i], size=3.2),
            name=METHODS[i], showlegend=False, xaxis=xa, yaxis=ya))
    # legend entries
    lg = "legend" if k == 0 else "legend%d" % (k + 1)
    for i, m in enumerate(METHODS):
        fig.add_trace(go.Scatter(
            x=[None], y=[None], mode="lines", line=dict(color=rgba(COLORS[i], 0.75), width=12),
            name=LEGEND_LABEL_PAD + m, legend=lg, legendgroup="%d-%d" % (k, i), showlegend=True,
            xaxis=xa, yaxis=ya, hoverinfo="skip"))
    lx, ly = LEGEND_POS[k]
    layout[lg] = dict(x=px_x(lx), y=px_y(ly), xanchor="left", yanchor="top",
                      bgcolor="rgba(255,255,255,0.8)", bordercolor="#dddddd", borderwidth=1,
                      font=dict(family="DejaVu Sans", size=14.5, color="#262626"),
                      tracegroupgap=0, itemwidth=30, traceorder="grouped")

    # texts
    annotations.append(dict(text=Y_TITLE, x=px_x(YTITLE_X[c]), y=px_y((y0 + y1) / 2),
                            xref="paper", yref="paper", textangle=-90, showarrow=False,
                            xanchor="center", yanchor="middle",
                            font=dict(family="DejaVu Sans", size=16, color="#262626")))
    annotations.append(dict(text=X_TITLE, x=px_x(x0 + 129.9), y=px_y(XTITLE_Y[r]),
                            xref="paper", yref="paper", showarrow=False,
                            xanchor="center", yanchor="middle",
                            font=dict(family="DejaVu Sans", size=16, color="#262626")))
    annotations.append(dict(text=CAPTIONS[k], x=px_x(CAPTION_X[c]), y=px_y(CAPTION_Y[r]),
                            xref="paper", yref="paper", showarrow=False,
                            xanchor="center", yanchor="middle",
                            font=dict(family="Liberation Serif", size=23, color="black")))

layout["shapes"] = shapes
layout["annotations"] = annotations
fig.update_layout(**layout)
# the page's default 8px body margin would shift the whole 981x977 figure
fig.write_html("out.html", config={"displayModeBar": False},
               post_script="document.body.style.margin='0';document.body.style.overflow='hidden';")
